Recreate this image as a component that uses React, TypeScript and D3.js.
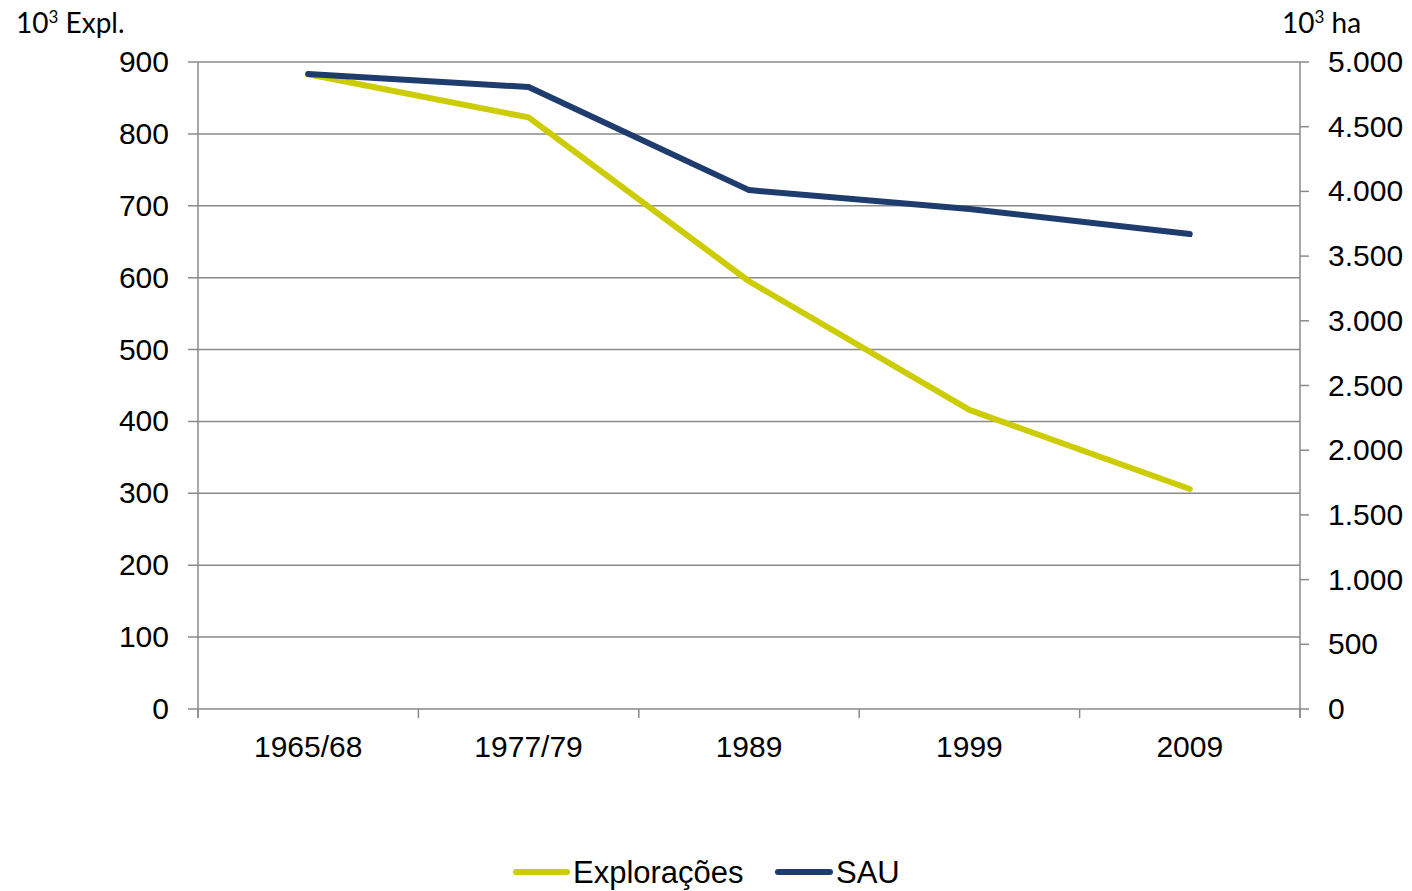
import React from "react";
import * as d3 from "d3";

const categories = ["1965/68", "1977/79", "1989", "1999", "2009"];
const exploracoes = [883, 823, 595, 416, 306];
const sau = [4907, 4807, 4010, 3864, 3670];
const leftTicks = [0, 100, 200, 300, 400, 500, 600, 700, 800, 900];
const rightTicks = [0, 500, 1000, 1500, 2000, 2500, 3000, 3500, 4000, 4500, 5000];

const W = 1412, H = 891;
const L = 198, R = 1300, T = 62, B = 709;

const fmt = (v: number) => {
  const s = String(v);
  return s.length > 3 ? s.slice(0, s.length - 3) + "." + s.slice(-3) : s;
};

export default function App() {
  const x = d3.scaleBand<string>().domain(categories).range([L, R]);
  const yL = d3.scaleLinear().domain([0, 900]).range([B, T]);
  const yR = d3.scaleLinear().domain([0, 5000]).range([B, T]);
  const cx = (c: string) => (x(c) as number) + x.bandwidth() / 2;
  const lineL = d3.line<number>().x((_, i) => cx(categories[i])).y((d) => yL(d));
  const lineR = d3.line<number>().x((_, i) => cx(categories[i])).y((d) => yR(d));
  const grid = "#8a8a8a";
  const yellow = "#CCCC00";
  const navy = "#1F3C6E";
  const tickFont = "Arial, 'Liberation Sans', sans-serif";
  const titleFont = "Lato, 'Open Sans', sans-serif";
  const fs = 30;
  const sw = 6;
  const boundaries = [...categories.map((c) => x(c) as number), R];
  return (
    <svg width={W} height={H} style={{ position: "absolute", left: 0, top: 0, background: "#fff" }}>
      {leftTicks.map((t) => (
        <g key={"l" + t}>
          <line x1={L - 10} x2={R} y1={yL(t)} y2={yL(t)} stroke={grid} strokeWidth={1.5} />
          <text x={169} y={yL(t) + 10} textAnchor="end" fontFamily={tickFont} fontSize={fs} fill="#000">{t}</text>
        </g>
      ))}
      {rightTicks.map((t) => (
        <g key={"r" + t}>
          <line x1={R} x2={R + 9} y1={yR(t)} y2={yR(t)} stroke={grid} strokeWidth={1.5} />
          <text x={1328} y={yR(t) + 10} textAnchor="start" fontFamily={tickFont} fontSize={fs} fill="#000">{fmt(t)}</text>
        </g>
      ))}
      <line x1={L} x2={L} y1={T} y2={B + 9} stroke={grid} strokeWidth={1.5} />
      <line x1={R} x2={R} y1={T} y2={B + 9} stroke={grid} strokeWidth={1.5} />
      {boundaries.map((b, i) => (
        <line key={"b" + i} x1={b} x2={b} y1={B} y2={B + 9} stroke={grid} strokeWidth={1.5} />
      ))}
      {categories.map((c) => (
        <text key={c} x={cx(c)} y={757} textAnchor="middle" fontFamily={tickFont} fontSize={fs} fill="#000">{c}</text>
      ))}
      <path d={lineL(exploracoes) || ""} fill="none" stroke={yellow} strokeWidth={sw} strokeLinecap="round" strokeLinejoin="round" />
      <path d={lineR(sau) || ""} fill="none" stroke={navy} strokeWidth={sw} strokeLinecap="round" strokeLinejoin="round" />
      <text x={16} y={33} fontFamily={titleFont} fontSize={28} fill="#000">
        10<tspan dy={-10} fontSize={17}>3</tspan><tspan dy={10}> Expl.</tspan>
      </text>
      <text x={1282} y={33} fontFamily={titleFont} fontSize={28} fill="#000">
        10<tspan dy={-10} fontSize={17}>3</tspan><tspan dy={10}> ha</tspan>
      </text>
      <line x1={516} x2={567} y1={872} y2={872} stroke={yellow} strokeWidth={sw} strokeLinecap="round" />
      <text x={573} y={883} fontFamily={tickFont} fontSize={31} fill="#000">Explorações</text>
      <line x1={778} x2={830} y1={872} y2={872} stroke={navy} strokeWidth={sw} strokeLinecap="round" />
      <text x={836} y={883} fontFamily={tickFont} fontSize={31} fill="#000">SAU</text>
    </svg>
  );
}
